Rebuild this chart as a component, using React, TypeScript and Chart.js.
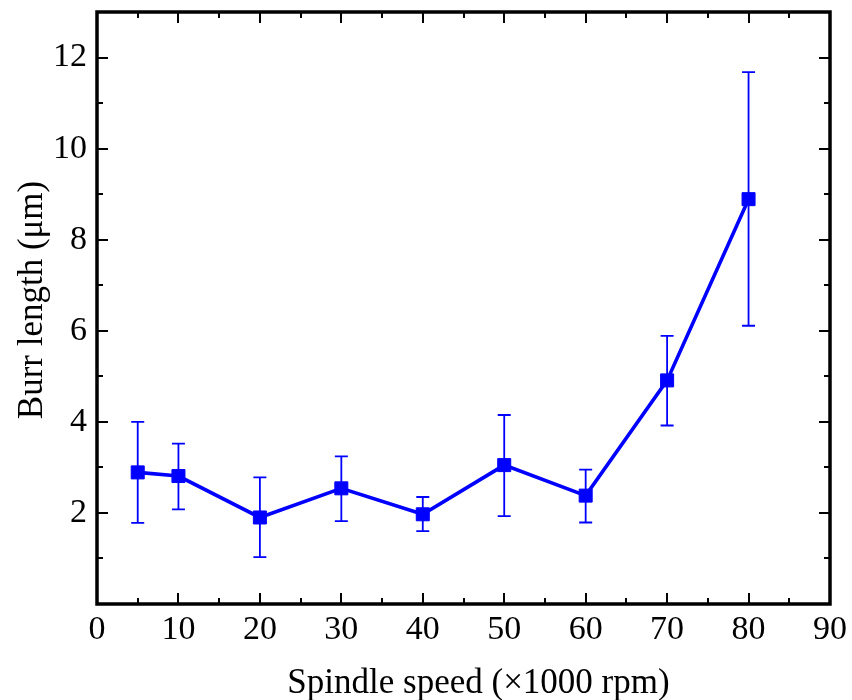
import React, { useEffect, useRef } from "react";
import { Chart, registerables } from "chart.js";

Chart.register(...registerables);

const speeds = [5, 10, 20, 30, 40, 50, 60, 70, 80];
const burrLength = [2.89, 2.81, 1.9, 2.54, 1.97, 3.05, 2.38, 4.91, 8.89];
const errHigh = [4.0, 3.52, 2.78, 3.24, 2.35, 4.15, 2.95, 5.89, 11.68];
const errLow = [1.78, 2.08, 1.03, 1.82, 1.6, 1.93, 1.79, 3.92, 6.11];
const xMajorTicks = [0, 10, 20, 30, 40, 50, 60, 70, 80, 90];
const yMajorTicks = [2, 4, 6, 8, 10, 12];
const xTitle = "Spindle speed (×1000 rpm)";
const yTitle = "Burr length (μm)";

const BLUE = "#0000ff";
const FONT = "'Liberation Serif', 'DejaVu Serif', serif";

const errorBarPlugin = {
  id: "errorBars",
  beforeDatasetsDraw(chart: any) {
    const ctx = chart.ctx;
    const xs = chart.scales.x;
    const ys = chart.scales.y;
    ctx.save();
    ctx.strokeStyle = BLUE;
    ctx.lineWidth = 1.8;
    for (let i = 0; i < speeds.length; i++) {
      const px = xs.getPixelForValue(speeds[i]);
      const pt = ys.getPixelForValue(errHigh[i]);
      const pb = ys.getPixelForValue(errLow[i]);
      ctx.beginPath();
      ctx.moveTo(px, pt);
      ctx.lineTo(px, pb);
      ctx.moveTo(px - 6.5, pt);
      ctx.lineTo(px + 6.5, pt);
      ctx.moveTo(px - 6.5, pb);
      ctx.lineTo(px + 6.5, pb);
      ctx.stroke();
    }
    ctx.restore();
  },
};

const framePlugin = {
  id: "frame",
  afterDraw(chart: any) {
    const ctx = chart.ctx;
    const { left, right, top, bottom } = chart.chartArea;
    const xs = chart.scales.x;
    const ys = chart.scales.y;
    ctx.save();
    ctx.strokeStyle = "#000";
    ctx.lineWidth = 2;
    ctx.beginPath();
    for (let v = 5; v < 90; v += 5) {
      const px = Math.round(xs.getPixelForValue(v));
      const len = v % 10 === 0 ? 11 : 6;
      ctx.moveTo(px, bottom);
      ctx.lineTo(px, bottom - len);
      ctx.moveTo(px, top);
      ctx.lineTo(px, top + len);
    }
    for (let v = 1; v < 13; v += 1) {
      const py = Math.round(ys.getPixelForValue(v));
      const len = v % 2 === 0 ? 11 : 6;
      ctx.moveTo(left, py);
      ctx.lineTo(left + len, py);
      ctx.moveTo(right, py);
      ctx.lineTo(right - len, py);
    }
    ctx.stroke();
    ctx.lineWidth = 3.5;
    ctx.strokeRect(left, top, right - left, bottom - top);

    // axis titles
    ctx.fillStyle = "#000";
    ctx.font = `35px ${FONT}`;
    ctx.textAlign = "center";
    ctx.textBaseline = "middle";
    ctx.fillText(xTitle, (left + right) / 2 + 15, bottom + 80);
    ctx.translate(33, (top + bottom) / 2 - 8);
    ctx.rotate(-Math.PI / 2);
    ctx.fillText(yTitle, 0, 0);
    ctx.restore();
  },
};

export default function App() {
  const ref = useRef<HTMLCanvasElement>(null);
  useEffect(() => {
    if (!ref.current) return;
    const chart = new Chart(ref.current, {
      type: "line",
      data: {
        datasets: [
          {
            data: speeds.map((s, i) => ({ x: s, y: burrLength[i] })),
            borderColor: BLUE,
            backgroundColor: BLUE,
            borderWidth: 3.6,
            pointStyle: "rect",
            pointRadius: 9.2,
            pointBorderWidth: 1,
            pointBackgroundColor: BLUE,
            pointBorderColor: BLUE,
            tension: 0,
          },
        ],
      },
      options: {
        responsive: false,
        animation: false,
        layout: { padding: { left: 0, right: 22, top: 12, bottom: 0 } },
        plugins: { legend: { display: false }, tooltip: { enabled: false } },
        scales: {
          x: {
            type: "linear",
            min: 0,
            max: 90,
            afterFit: (s: any) => {
              s.height = 96;
              s.paddingLeft = 0;
              s.paddingRight = 0;
            },
            afterBuildTicks: (s: any) => {
              s.ticks = xMajorTicks.map((v) => ({ value: v }));
            },
            grid: { display: false, drawTicks: false },
            border: { display: false },
            ticks: {
              padding: 6,
              color: "#000",
              font: { family: FONT, size: 34 },
              maxRotation: 0,
            },
            title: { display: false },
          },
          y: {
            type: "linear",
            min: 0,
            max: 13,
            afterFit: (s: any) => {
              s.width = 97;
              s.paddingTop = 0;
              s.paddingBottom = 0;
            },
            afterBuildTicks: (s: any) => {
              s.ticks = yMajorTicks.map((v) => ({ value: v }));
            },
            grid: { display: false, drawTicks: false },
            border: { display: false },
            ticks: {
              padding: 10,
              color: "#000",
              font: { family: FONT, size: 34 },
            },
            title: { display: false },
          },
        },
      },
      plugins: [errorBarPlugin, framePlugin],
    } as any);
    return () => chart.destroy();
  }, []);
  return (
    <div style={{ position: "absolute", left: 0, top: 0, width: 852, height: 700, background: "#fff" }}>
      <canvas ref={ref} width={852} height={700} />
    </div>
  );
}
